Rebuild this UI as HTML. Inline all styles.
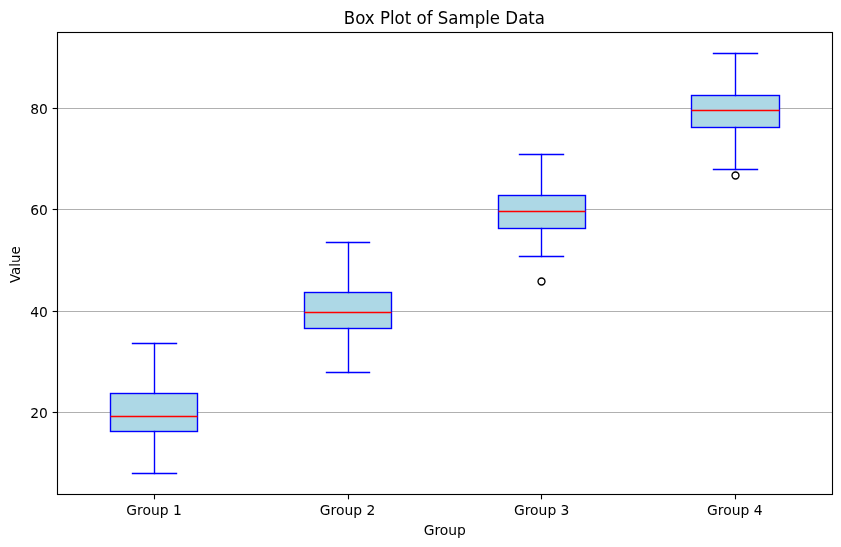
<!DOCTYPE html>
<html lang="en"><head><meta charset="utf-8"><title>Box Plot of Sample Data</title>
<style>html,body{margin:0;padding:0;background:#fff;overflow:hidden}svg{display:block}text{font-family:"DejaVu Sans","Liberation Sans",sans-serif;fill:#000}</style></head><body>
<svg width="841" height="547" viewBox="0 0 841 547">
<rect x="0" y="0" width="841" height="547" fill="#ffffff"/>
<line x1="57.5" y1="412.5" x2="832.5" y2="412.5" stroke="#b0b0b0" stroke-width="1.111"/>
<line x1="57.5" y1="311.5" x2="832.5" y2="311.5" stroke="#b0b0b0" stroke-width="1.111"/>
<line x1="57.5" y1="209.5" x2="832.5" y2="209.5" stroke="#b0b0b0" stroke-width="1.111"/>
<line x1="57.5" y1="108.5" x2="832.5" y2="108.5" stroke="#b0b0b0" stroke-width="1.111"/>
<rect x="110.5" y="393.5" width="87.0" height="38.0" fill="#add8e6" stroke="#0000ff" stroke-width="1.389"/>
<g stroke="#0000ff" stroke-width="1.389" stroke-linecap="square">
<line x1="154.5" y1="343.5" x2="154.5" y2="393.5"/><line x1="154.5" y1="431.5" x2="154.5" y2="473.5"/>
<line x1="132.5" y1="343.5" x2="176.5" y2="343.5"/><line x1="132.5" y1="473.5" x2="176.5" y2="473.5"/>
</g>
<line x1="110.5" y1="416.5" x2="197.5" y2="416.5" stroke="#ff0000" stroke-width="1.389"/>
<rect x="304.5" y="292.5" width="87.0" height="36.0" fill="#add8e6" stroke="#0000ff" stroke-width="1.389"/>
<g stroke="#0000ff" stroke-width="1.389" stroke-linecap="square">
<line x1="348.5" y1="242.5" x2="348.5" y2="292.5"/><line x1="348.5" y1="328.5" x2="348.5" y2="372.5"/>
<line x1="326.5" y1="242.5" x2="369.5" y2="242.5"/><line x1="326.5" y1="372.5" x2="369.5" y2="372.5"/>
</g>
<line x1="304.5" y1="312.5" x2="391.5" y2="312.5" stroke="#ff0000" stroke-width="1.389"/>
<rect x="498.5" y="195.5" width="87.0" height="33.0" fill="#add8e6" stroke="#0000ff" stroke-width="1.389"/>
<g stroke="#0000ff" stroke-width="1.389" stroke-linecap="square">
<line x1="541.5" y1="154.5" x2="541.5" y2="195.5"/><line x1="541.5" y1="228.5" x2="541.5" y2="256.5"/>
<line x1="519.5" y1="154.5" x2="563.5" y2="154.5"/><line x1="519.5" y1="256.5" x2="563.5" y2="256.5"/>
</g>
<line x1="498.5" y1="211.5" x2="585.5" y2="211.5" stroke="#ff0000" stroke-width="1.389"/>
<circle cx="541.5" cy="281.5" r="3.47" fill="none" stroke="#000" stroke-width="1.389"/>
<rect x="691.5" y="95.5" width="88.0" height="32.0" fill="#add8e6" stroke="#0000ff" stroke-width="1.389"/>
<g stroke="#0000ff" stroke-width="1.389" stroke-linecap="square">
<line x1="735.5" y1="53.5" x2="735.5" y2="95.5"/><line x1="735.5" y1="127.5" x2="735.5" y2="169.5"/>
<line x1="713.5" y1="53.5" x2="757.5" y2="53.5"/><line x1="713.5" y1="169.5" x2="757.5" y2="169.5"/>
</g>
<line x1="691.5" y1="110.5" x2="779.5" y2="110.5" stroke="#ff0000" stroke-width="1.389"/>
<circle cx="735.5" cy="175.5" r="3.47" fill="none" stroke="#000" stroke-width="1.389"/>
<g stroke="#000" stroke-width="1.111">
<line x1="52.64" y1="412.5" x2="57.5" y2="412.5"/>
<line x1="52.64" y1="311.5" x2="57.5" y2="311.5"/>
<line x1="52.64" y1="209.5" x2="57.5" y2="209.5"/>
<line x1="52.64" y1="108.5" x2="57.5" y2="108.5"/>
<line x1="154.5" y1="494.5" x2="154.5" y2="499.36"/>
<line x1="348.5" y1="494.5" x2="348.5" y2="499.36"/>
<line x1="541.5" y1="494.5" x2="541.5" y2="499.36"/>
<line x1="735.5" y1="494.5" x2="735.5" y2="499.36"/>
</g>
<rect x="57.5" y="32.5" width="775.0" height="462.0" fill="none" stroke="#000" stroke-width="1.111" stroke-linejoin="miter"/>
<text x="47.8" y="417.8" font-size="13.89" text-anchor="end">20</text>
<text x="47.8" y="316.8" font-size="13.89" text-anchor="end">40</text>
<text x="47.8" y="214.8" font-size="13.89" text-anchor="end">60</text>
<text x="47.8" y="113.8" font-size="13.89" text-anchor="end">80</text>
<text x="154.0" y="514.8" font-size="13.89" text-anchor="middle">Group 1</text>
<text x="347.6" y="514.8" font-size="13.89" text-anchor="middle">Group 2</text>
<text x="541.7" y="514.8" font-size="13.89" text-anchor="middle">Group 3</text>
<text x="734.75" y="514.8" font-size="13.89" text-anchor="middle">Group 4</text>
<text x="444.8" y="535" font-size="13.89" text-anchor="middle">Group</text>
<text transform="translate(19.5 264.6) rotate(-90) scale(0.97 1)" font-size="13.89" text-anchor="middle">Value</text>
<text transform="translate(444.4 23.75) scale(0.997 1.06)" font-size="16.67" text-anchor="middle">Box Plot of Sample Data</text>
</svg></body></html>
